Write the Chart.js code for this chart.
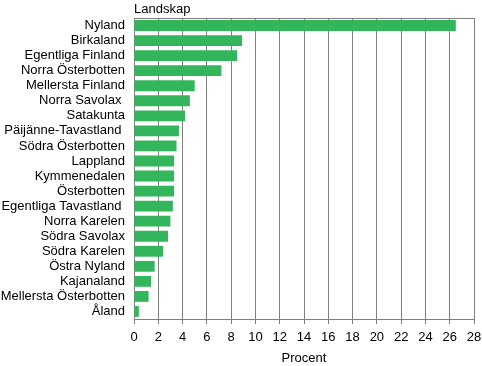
<!DOCTYPE html>
<html>
<head>
<meta charset="utf-8">
<script src="https://cdn.jsdelivr.net/npm/chart.js@4"></script>
<style>
  html, body { margin: 0; padding: 0; background: #fff; }
  #wrap { width: 482px; height: 366px; }
</style>
</head>
<body>
<div id="wrap"><canvas id="landskapChart" width="482" height="366"></canvas></div>
<script>
// Landskap och andel i procent
const landskap = ['Nyland', 'Birkaland', 'Egentliga Finland', 'Norra Österbotten', 'Mellersta Finland',
  'Norra Savolax ', 'Satakunta', 'Päijänne-Tavastland ', 'Södra Österbotten', 'Lappland',
  'Kymmenedalen', 'Österbotten', 'Egentliga Tavastland ', 'Norra Karelen', 'Södra Savolax',
  'Södra Karelen', 'Östra Nyland', 'Kajanaland', 'Mellersta Österbotten', 'Åland'];
const procent = [26.5, 8.9, 8.5, 7.2, 5.0, 4.6, 4.2, 3.7, 3.5, 3.3,
  3.3, 3.3, 3.2, 3.0, 2.8, 2.4, 1.7, 1.4, 1.2, 0.4];
const xTicks = [0, 2, 4, 6, 8, 10, 12, 14, 16, 18, 20, 22, 24, 26, 28];

const fontFam = '"Liberation Sans", Arial, sans-serif';
const gray = '#808080';

// Rubrik ovanför diagramytan + övre ram
const extras = {
  id: 'extras',
  afterDraw(chart) {
    const { ctx, chartArea } = chart;
    ctx.save();
    ctx.strokeStyle = gray;
    ctx.lineWidth = 1;
    ctx.beginPath();
    ctx.moveTo(chartArea.left, Math.round(chartArea.top) + 0.5);
    ctx.lineTo(chartArea.right, Math.round(chartArea.top) + 0.5);
    ctx.stroke();
    ctx.fillStyle = '#000';
    ctx.font = '13px ' + fontFam;
    ctx.textAlign = 'left';
    ctx.textBaseline = 'alphabetic';
    ctx.fillText('Landskap', chartArea.left, chartArea.top - 5);
    ctx.restore();
  }
};

new Chart(document.getElementById('landskapChart'), {
  type: 'bar',
  data: {
    labels: landskap,
    datasets: [{
      data: procent,
      backgroundColor: '#33b65b',
      borderWidth: 0,
      barPercentage: 0.72,
      categoryPercentage: 1
    }]
  },
  options: {
    indexAxis: 'y',
    responsive: false,
    animation: false,
    layout: { padding: { top: 18, right: 8, left: 0, bottom: 0 } },
    plugins: { legend: { display: false }, tooltip: { enabled: false } },
    scales: {
      x: {
        min: 0,
        max: 28,
        afterBuildTicks(scale) { scale.ticks = xTicks.map(v => ({ value: v })); },
        afterFit(scale) {
          scale.height = 47;
          scale.paddingLeft = 0;
          scale.paddingRight = 0;
        },
        grid: { color: gray, lineWidth: 1, tickLength: 5 },
        border: { color: gray },
        ticks: { color: '#000', font: { family: fontFam, size: 13 }, padding: 6, maxRotation: 0 },
        title: { display: true, text: 'Procent', color: '#000', font: { family: fontFam, size: 13 }, padding: { top: 0, bottom: 0 } }
      },
      y: {
        afterFit(scale) { scale.width = 134; },
        grid: { display: false, tickLength: 0 },
        border: { display: true, color: gray },
        ticks: { color: '#000', font: { family: fontFam, size: 13 }, padding: 9, autoSkip: false }
      }
    }
  },
  plugins: [extras]
});
</script>
</body>
</html>
